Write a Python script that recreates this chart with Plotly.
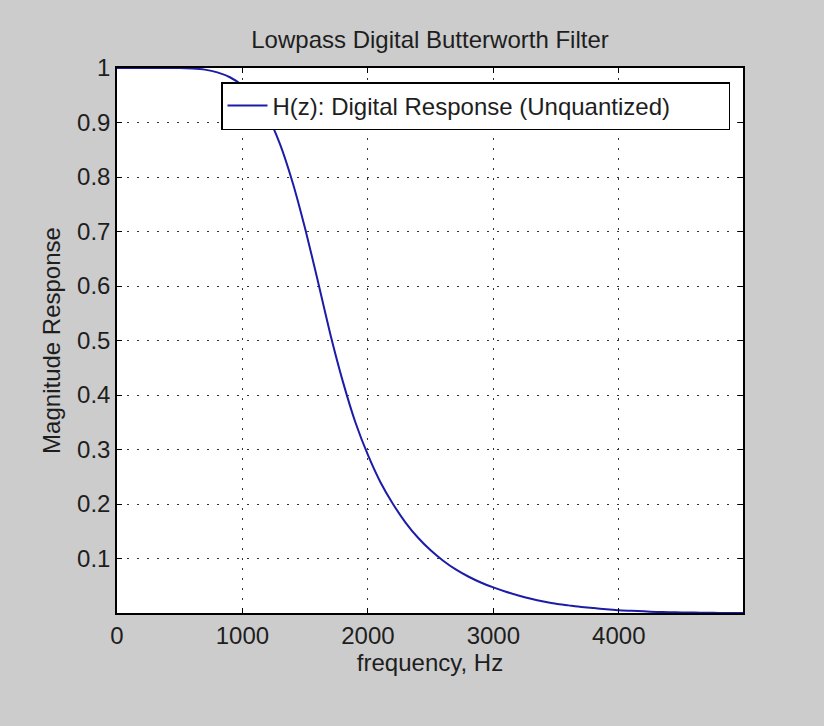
import plotly.graph_objects as go

# Frequency samples (Hz) and magnitude response
freq_hz = [0, 100, 200, 300, 400, 500, 600, 700, 800, 900,
           1000, 1100, 1200, 1300, 1400, 1500, 1600, 1700, 1800, 1900,
           2000, 2100, 2200, 2300, 2400, 2500, 2600, 2700, 2800, 2900,
           3000, 3100, 3200, 3300, 3400, 3500, 3600, 3700, 3800, 3900,
           4000, 4100, 4200, 4300, 4400, 4500, 4600, 4700, 4800, 4900, 4990]
magnitude = [1.0, 1.0, 1.0, 1.0, 1.0, 1.0, 0.999, 0.997, 0.992, 0.983,
             0.968, 0.945, 0.912, 0.860, 0.790, 0.705, 0.610, 0.512, 0.425, 0.350,
             0.290, 0.240, 0.200, 0.166, 0.138, 0.115, 0.096, 0.080, 0.067, 0.056,
             0.047, 0.039, 0.032, 0.026, 0.021, 0.017, 0.014, 0.011, 0.009, 0.007,
             0.005, 0.004, 0.003, 0.002, 0.0015, 0.001, 0.0007, 0.0004, 0.0002, 0.0001, 0.0]

x_ticks = [0, 1000, 2000, 3000, 4000]
x_tick_labels = ["0", "1000", "2000", "3000", "4000"]
y_ticks = [0.1, 0.2, 0.3, 0.4, 0.5, 0.6, 0.7, 0.8, 0.9, 1.0]
y_tick_labels = ["0.1", "0.2", "0.3", "0.4", "0.5", "0.6", "0.7", "0.8", "0.9", "1"]

series_name = "H(z): Digital Response (Unquantized)"
title_text = "Lowpass Digital Butterworth Filter"
x_title = "frequency, Hz"
y_title = "Magnitude Response"

FONT = "Liberation Sans, Arial, sans-serif"
TXT = "#1e1e1e"
FS = 24
W, H = 824, 726
L, R, T, B = 117, 743, 68, 613

fig = go.Figure()
fig.add_trace(go.Scatter(
    x=freq_hz, y=magnitude, mode="lines", name=series_name,
    line=dict(color="#1c1ca8", width=2, shape="spline", smoothing=0.6),
))

axis_common = dict(
    showline=True, linecolor="black", linewidth=1.5, mirror="ticks",
    ticks="inside", ticklen=5, tickcolor="black", tickwidth=1,
    showgrid=True, gridcolor="#333333", gridwidth=1, griddash="2px,8px",
    zeroline=False, tickfont=dict(family=FONT, size=FS, color=TXT),
)

fig.update_layout(
    width=W, height=H,
    paper_bgcolor="#cccccc", plot_bgcolor="white",
    margin=dict(l=L, r=W - R, t=T, b=H - B, pad=0),
    title=dict(text=title_text, x=(L + R) / 2 / W, xanchor="center",
               y=1 - 40 / H, yanchor="middle", yref="container",
               font=dict(family=FONT, size=FS, color=TXT)),
    xaxis=dict(range=[0, 4990], tickvals=x_ticks, ticktext=x_tick_labels,
               title=dict(text=x_title, font=dict(family=FONT, size=FS, color=TXT), standoff=6),
               **axis_common),
    yaxis=dict(range=[0, 1], tickvals=y_ticks, ticktext=y_tick_labels,
               title=dict(text=y_title, font=dict(family=FONT, size=FS, color=TXT), standoff=10),
               **axis_common),
    showlegend=True,
    legend=dict(x=(730 - L) / (R - L), xanchor="right", y=(B - 82) / (B - T), yanchor="top",
                orientation="h", entrywidth=451, entrywidthmode="pixels",
                bgcolor="white", bordercolor="black", borderwidth=1.5,
                font=dict(family=FONT, size=FS, color=TXT),
                tracegroupgap=0, itemwidth=40),
)

fig.write_html("out.html")
